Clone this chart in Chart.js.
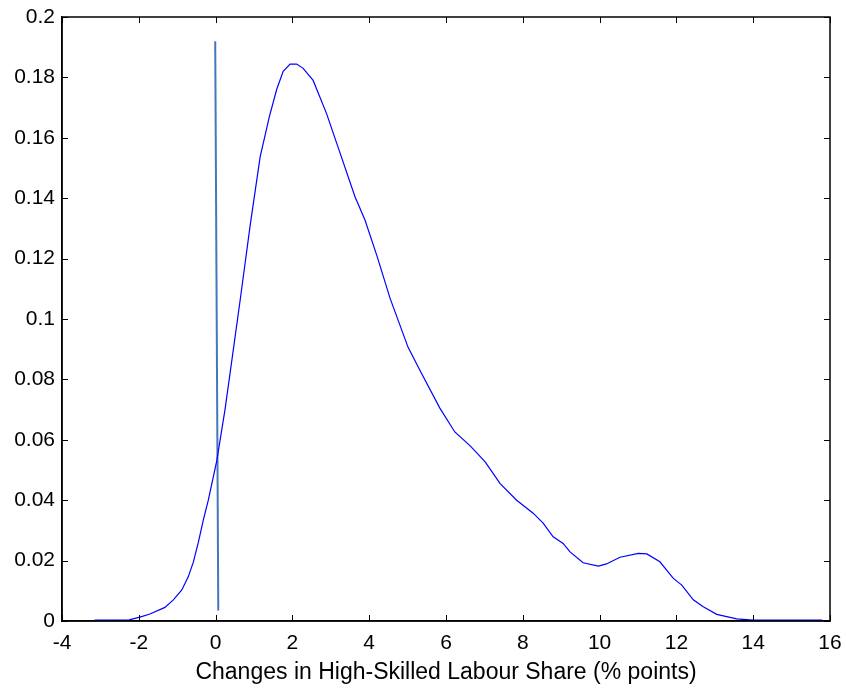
<!DOCTYPE html>
<html>
<head>
<meta charset="utf-8">
<script src="https://cdn.jsdelivr.net/npm/chart.js@4.4.1/dist/chart.umd.min.js"></script>
<style>
  html, body { margin: 0; padding: 0; background: #fff; }
  #wrap { width: 846px; height: 691px; }
</style>
</head>
<body>
<div id="wrap"><canvas id="c" width="846" height="691"></canvas></div>
<script>
const xTicks = [-4, -2, 0, 2, 4, 6, 8, 10, 12, 14, 16];
const yTicks = [0, 0.02, 0.04, 0.06, 0.08, 0.1, 0.12, 0.14, 0.16, 0.18, 0.2];
const xTitle = "Changes in High-Skilled Labour Share (% points)";

const densityX = [-3.15, -2.25, -1.97, -1.71, -1.32, -1.1, -0.88, -0.71, -0.58, -0.45, -0.32, -0.19, 0.03, 0.245, 0.46, 0.64, 0.9, 1.16, 1.4, 1.59, 1.76, 1.94, 2.11, 2.28, 2.54, 2.89, 3.24, 3.63, 3.89, 4.2, 4.54, 5.01, 5.32, 5.84, 6.23, 6.63, 7.02, 7.41, 7.84, 8.27, 8.53, 8.79, 9.05, 9.23, 9.57, 9.97, 10.18, 10.53, 11.01, 11.23, 11.57, 11.92, 12.14, 12.44, 12.7, 13.05, 13.57, 14.0, 15.8];
const densityY = [0.0003, 0.0004, 0.0013, 0.0023, 0.0045, 0.007, 0.0103, 0.0147, 0.0195, 0.026, 0.0334, 0.040, 0.053, 0.070, 0.0897, 0.1063, 0.131, 0.1537, 0.167, 0.176, 0.182, 0.1844, 0.1844, 0.183, 0.179, 0.168, 0.155, 0.1405, 0.1328, 0.121, 0.107, 0.0907, 0.083, 0.0705, 0.0626, 0.058, 0.0527, 0.0455, 0.040, 0.0357, 0.0324, 0.0279, 0.0257, 0.0229, 0.0193, 0.0182, 0.0189, 0.0211, 0.0224, 0.0222, 0.0196, 0.0141, 0.0119, 0.0070, 0.0047, 0.0022, 0.0007, 0.0003, 0.0003];

const markerX = [-0.01, 0.07];
const markerY = [0.192, 0.0035];

const FONT = "'Liberation Sans', Arial, sans-serif";

const boxTicks = {
  id: 'boxTicks',
  afterDatasetsDraw(chart) {
    const ctx = chart.ctx, a = chart.chartArea;
    const xs = chart.scales.x, ys = chart.scales.y;
    ctx.save();
    ctx.strokeStyle = '#000';
    ctx.lineWidth = 1;
    ctx.beginPath();
    const L = 6;
    xTicks.forEach(v => {
      const px = Math.round(xs.getPixelForValue(v)) + 0.5;
      ctx.moveTo(px, a.bottom); ctx.lineTo(px, a.bottom - L);
      ctx.moveTo(px, a.top); ctx.lineTo(px, a.top + L);
    });
    yTicks.forEach(v => {
      const py = Math.round(ys.getPixelForValue(v)) + 0.5;
      ctx.moveTo(a.left, py); ctx.lineTo(a.left + L, py);
      ctx.moveTo(a.right, py); ctx.lineTo(a.right - L, py);
    });
    ctx.stroke();
    ctx.lineWidth = 1.5;
    ctx.strokeRect(a.left, a.top, a.right - a.left, a.bottom - a.top);
    ctx.restore();
  }
};

new Chart(document.getElementById('c'), {
  type: 'scatter',
  data: {
    datasets: [
      {
        data: densityX.map((x, i) => ({ x, y: densityY[i] })),
        showLine: true,
        borderColor: '#0000ff',
        borderWidth: 1.2,
        pointRadius: 0,
        tension: 0,
        fill: false
      },
      {
        data: markerX.map((x, i) => ({ x, y: markerY[i] })),
        showLine: true,
        borderColor: '#4477bb',
        borderWidth: 2,
        pointRadius: 0,
        tension: 0,
        fill: false
      }
    ]
  },
  options: {
    responsive: false,
    animation: false,
    events: [],
    layout: { padding: { top: 17, right: 16, left: 0, bottom: 0 } },
    plugins: { legend: { display: false }, tooltip: { enabled: false } },
    scales: {
      x: {
        type: 'linear', min: -4, max: 16,
        afterBuildTicks: s => { s.ticks = xTicks.map(v => ({ value: v })); },
        ticks: { color: '#000', font: { family: FONT, size: 21 }, padding: 10, maxRotation: 0, callback: v => String(v) },
        grid: { display: false, drawTicks: false },
        border: { display: true, color: '#000', width: 1.5 },
        title: { display: true, text: xTitle, color: '#000', font: { family: FONT, size: 23 }, padding: { top: 0, bottom: 5 } },
        afterFit: s => { s.height = 70; s.paddingRight = 0; s.paddingLeft = 0; }
      },
      y: {
        type: 'linear', min: 0, max: 0.2,
        afterBuildTicks: s => { s.ticks = yTicks.map(v => ({ value: v })); },
        ticks: { color: '#000', font: { family: FONT, size: 21 }, padding: 7, callback: v => String(+v.toFixed(2)) },
        grid: { display: false, drawTicks: false },
        border: { display: true, color: '#000', width: 1.5 },
        afterFit: s => { s.width = 62; s.paddingTop = 0; s.paddingBottom = 0; }
      }
    }
  },
  plugins: [boxTicks]
});
</script>
</body>
</html>
